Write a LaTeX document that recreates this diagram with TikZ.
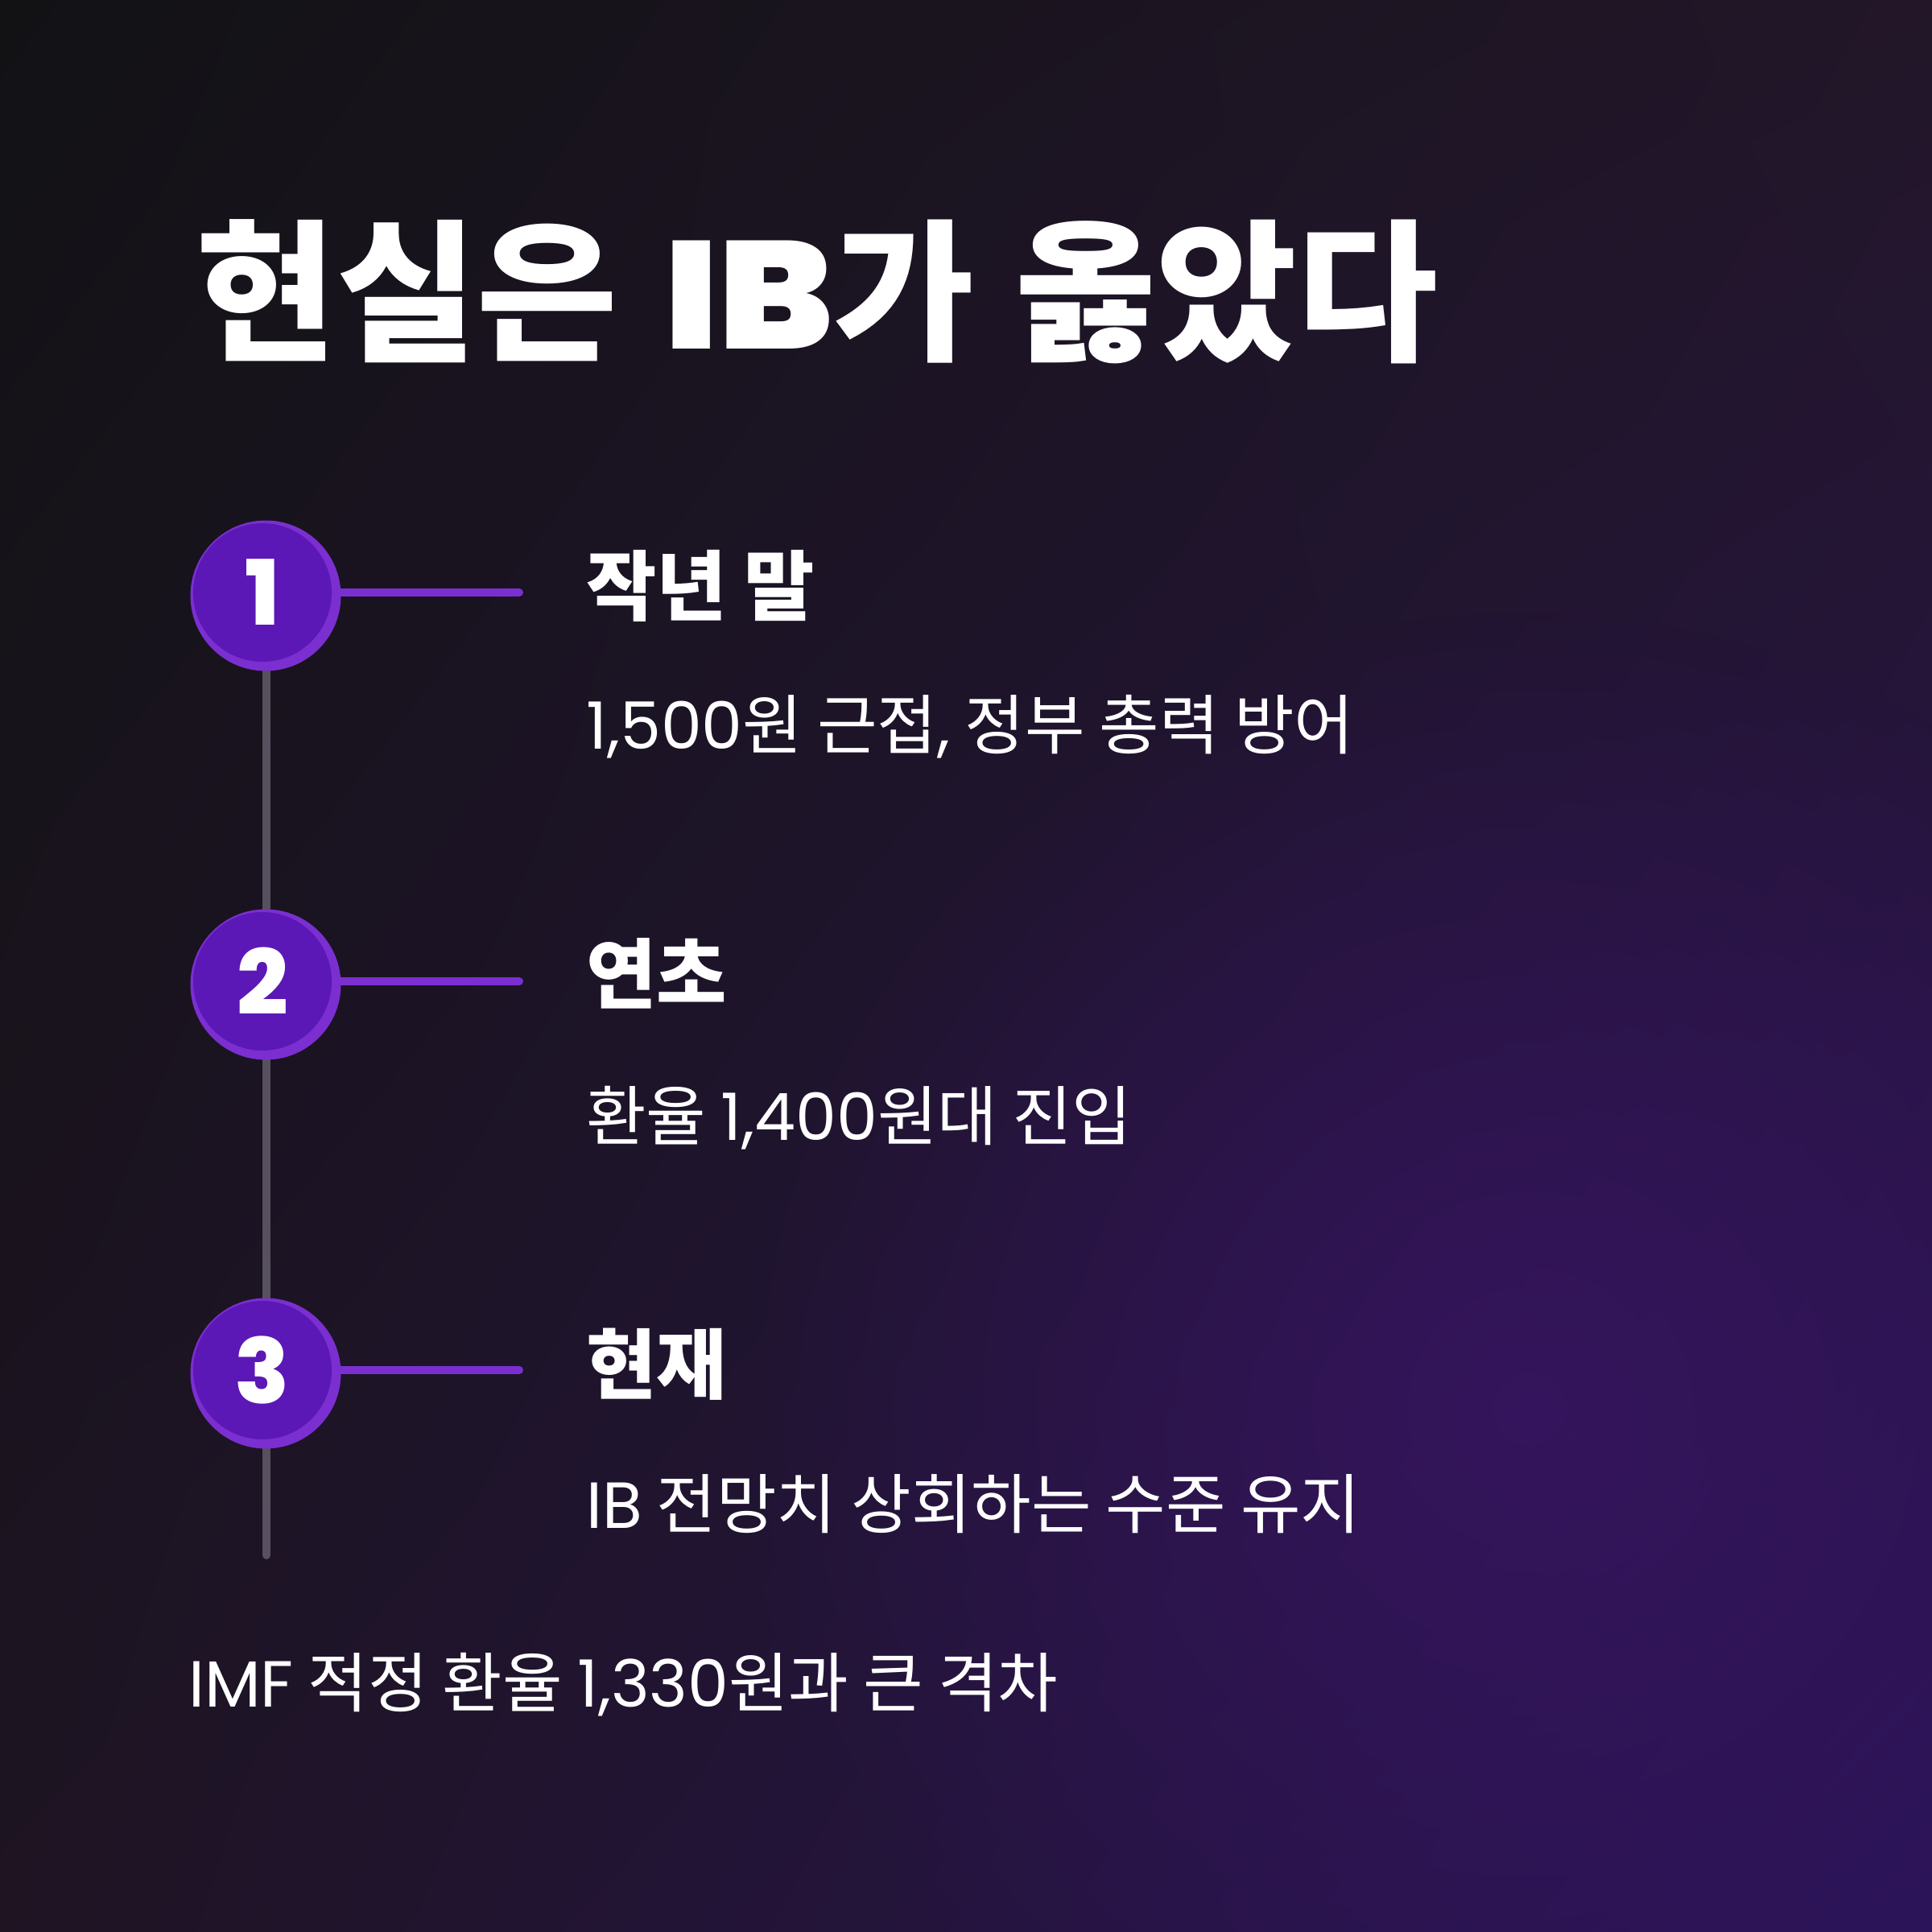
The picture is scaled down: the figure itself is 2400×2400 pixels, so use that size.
\documentclass[tikz,border=0pt]{standalone}
\usepackage{fontspec}
\usetikzlibrary{fadings,shadings}
\newfontfamily\kr{Noto Sans CJK KR}
\newfontfamily\pop{Poppins}
\newfontfamily\popx[FakeStretch=1.1]{Poppins ExtraBold}
\newfontfamily\popn{Poppins ExtraBold}
\definecolor{bgtl}{HTML}{121215}
\definecolor{bgtr}{HTML}{221628}
\definecolor{bgbl}{HTML}{1E1422}
\definecolor{bgbr}{HTML}{2A1458}
\definecolor{glow}{HTML}{3A1466}
\definecolor{ring}{HTML}{7B2FD0}
\definecolor{disc}{HTML}{5B18B6}
\definecolor{rail}{HTML}{57505E}
\tikzfading[name=glowfade, inner color=transparent!0, outer color=transparent!100]
\tikzset{
  x=1pt,y=-1pt,
  ringc/.style={circle,fill=ring,minimum size=187pt,inner sep=0pt},
  discc/.style={circle,fill=disc,minimum size=172pt,inner sep=0pt,text=white,font=\popn\fontsize{112}{120}\selectfont},
  link/.style={draw=ring,line width=10pt,line cap=round},
  railc/.style={draw=rail,line width=10pt,line cap=round},
  titlec/.style={anchor=base west,inner sep=0pt,text=white,font=\kr\bfseries\fontsize{190}{200}\selectfont},
  headc/.style={anchor=base west,inner sep=0pt,text=white,font=\kr\bfseries\fontsize{95}{100}\selectfont},
  subc/.style={anchor=base west,inner sep=0pt,text=white,font=\kr\fontsize{81}{90}\selectfont},
}
\begin{document}
\begin{tikzpicture}
\useasboundingbox (0,0) rectangle (2400,2400);
\shade[upper left=bgtl,upper right=bgtr,lower left=bgbl,lower right=bgbr] (0,0) rectangle (2400,2400);
\fill[glow,path fading=glowfade,opacity=0.75] (1900,1750) circle (1000);
% title
\node[titlec] (title) at (243,433) {현실은 \hspace{14pt}{\popx IB}가 \hspace{8pt}옳았다};
% rail
\coordinate (railend) at (331,1932);
\coordinate (railtop) at (331,740);
\draw[railc] (railtop) -- (railend);
\node[ringc] (r1) at (330,740) {};
\node[ringc] (r2) at (330,1223) {};
\node[ringc] (r3) at (330,1706) {};
\node[discc] (d1) at (326,736) {1};
\node[discc] (d2) at (326,1219) {2};
\node[discc] (d3) at (326,1702) {3};
\coordinate (e1) at (645,736);
\coordinate (e2) at (645,1219);
\coordinate (e3) at (645,1702);
\draw[link] (r1.east|-e1) -- (e1);
\draw[link] (r2.east|-e2) -- (e2);
\draw[link] (r3.east|-e3) -- (e3);
% texts
\node[headc] (h1) at (728,763) {작년 말};
\node[subc] (s1) at (728,930) {{\pop 1,500}원 근접{\pop ,} 정부 총력 방어};
\node[headc] (h2) at (728,1245) {연초};
\node[subc] (s2) at (728,1416) {환율 {\pop 1,400}원대 진입};
\node[headc] (h3) at (728,1730) {현재};
\node[subc] (s3) at (728,1898) {{\pop IB} 전망치 상회하는 수준 유지};
\node[subc] (foot) at (234,2120) {{\pop IMF} 적정 환율 {\pop 1,330}원과 큰 격차};
\end{tikzpicture}
\end{document}
